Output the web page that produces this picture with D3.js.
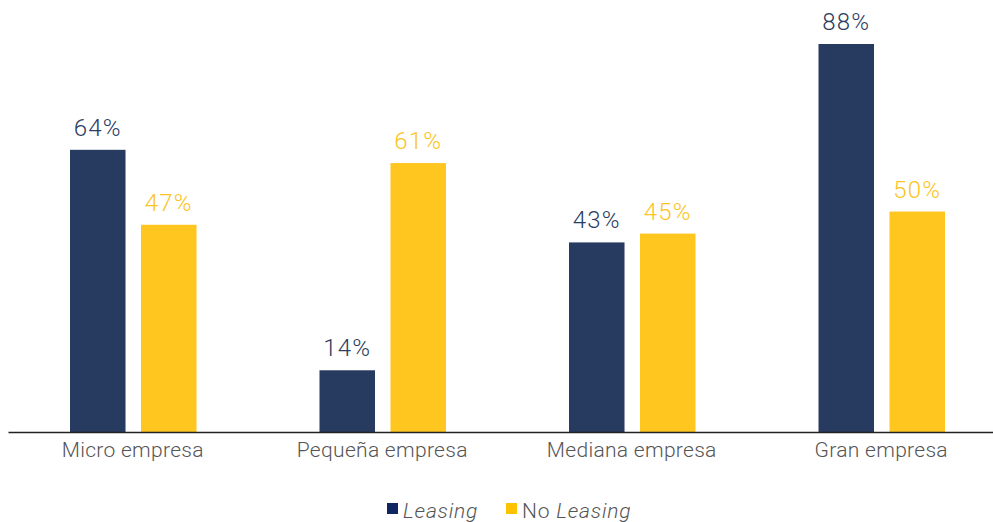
<!DOCTYPE html>
<html>
<head>
<meta charset="utf-8">
<script src="https://cdn.jsdelivr.net/npm/d3@7"></script>
<style>
  body { margin: 0; background: #fff; }
  text { font-family: Roboto, "Liberation Sans", sans-serif; font-weight: 300; }
</style>
</head>
<body>
<div id="chart"></div>
<script>
const categories = ['Micro empresa', 'Pequeña empresa', 'Mediana empresa', 'Gran empresa'];
const series = ['Leasing', 'No Leasing'];
const leasing = [64, 14, 43, 88];
const noLeasing = [47, 61, 45, 50];

const WIDTH = 993;
const HEIGHT = 522;
const BASELINE = 432;

const barColors = ['#273a5f', '#fec61f'];
const labelColors = ['#2b3d62', '#fbc423'];
const legendColors = ['#0f2660', '#fdc200'];

const svg = d3.select('#chart')
    .append('svg')
    .attr('width', WIDTH)
    .attr('height', HEIGHT);

const x0 = d3.scaleBand()
    .domain(categories)
    .range([8, 1006]);

const x1 = d3.scaleBand()
    .domain(series)
    .range([62, 188.5])
    .paddingInner(0.218);

const y = d3.scaleLinear()
    .domain([0, 88])
    .range([BASELINE, 44]);

const rows = categories.map((c, i) => ({
    cat: c,
    vals: [leasing[i], noLeasing[i]]
}));

const groups = svg.selectAll('g.group')
    .data(rows)
    .enter()
    .append('g')
    .attr('class', 'group')
    .attr('transform', d => `translate(${x0(d.cat)},0)`);

// bars
groups.selectAll('rect')
    .data(d => d.vals.map((v, j) => ({ s: series[j], v: v, j: j })))
    .enter()
    .append('rect')
    .attr('x', d => x1(d.s))
    .attr('y', d => y(d.v))
    .attr('width', x1.bandwidth())
    .attr('height', d => BASELINE - y(d.v))
    .style('fill', d => barColors[d.j]);

// value labels
groups.selectAll('text.val')
    .data(d => d.vals.map((v, j) => ({ s: series[j], v: v, j: j })))
    .enter()
    .append('text')
    .attr('class', 'val')
    .text(d => d.v + '%')
    .attr('x', d => x1(d.s) + x1.bandwidth() / 2)
    .attr('y', d => y(d.v) - 14)
    .attr('text-anchor', 'middle')
    .attr('font-size', 24)
    .attr('letter-spacing', 1.2)
    .attr('fill', d => labelColors[d.j]);

// axis
const xAxis = d3.axisBottom(x0).tickSize(0).tickPadding(10);
const axisG = svg.append('g')
    .attr('transform', `translate(0,${BASELINE})`)
    .call(xAxis);
axisG.select('.domain').attr('stroke', '#222').attr('stroke-width', 1.5);
axisG.selectAll('text')
    .attr('font-size', 21)
    .attr('letter-spacing', 0.3)
    .attr('fill', '#555')
    .style('font-family', 'Roboto, "Liberation Sans", sans-serif')
    .style('font-weight', 300);

// legend
const legendX = [387, 506];
const legend = svg.selectAll('g.legend')
    .data(series)
    .enter()
    .append('g')
    .attr('class', 'legend')
    .attr('transform', (d, i) => `translate(${legendX[i]},503)`);

legend.append('rect')
    .attr('width', 11)
    .attr('height', 11)
    .style('fill', (d, i) => legendColors[i]);

const lt = legend.append('text')
    .attr('x', 16)
    .attr('y', 15)
    .attr('font-size', 21)
    .attr('letter-spacing', 0.8)
    .attr('fill', '#555');
lt.filter(d => d.startsWith('No ')).append('tspan').text('No ');
lt.append('tspan')
    .attr('font-style', 'italic')
    .text('Leasing');
</script>
</body>
</html>
